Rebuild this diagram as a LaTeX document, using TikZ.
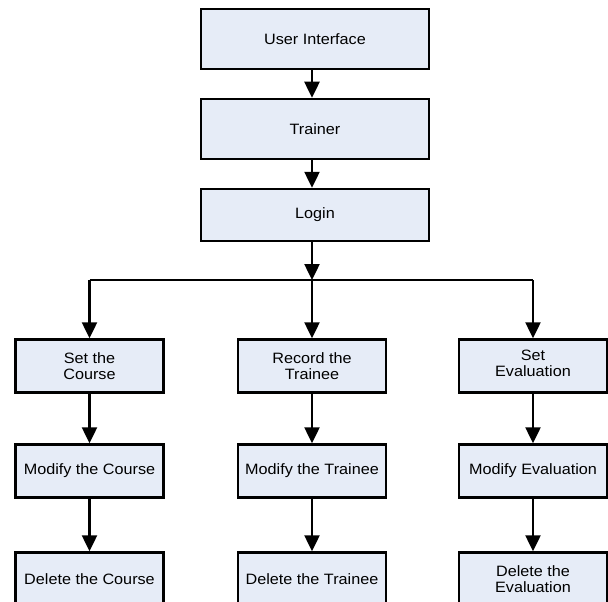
\documentclass[tikz,border=0pt]{standalone}
\usepackage{fontspec}
\setmainfont{Liberation Sans}[FakeStretch=1.08]
\usetikzlibrary{arrows.meta}
\definecolor{boxfill}{HTML}{E6ECF7}
\tikzset{
  box/.style={draw=black, line width=2.5pt, fill=boxfill, rectangle, align=center,
    font=\fontsize{15}{16}\selectfont, inner sep=0pt},
  topbox/.style={box, minimum width=228pt},
  colbox/.style={box, minimum width=148pt, minimum height=53pt},
  arr/.style={line width=2.5pt, -{Triangle[length=16pt,width=15pt]}},
  ln/.style={line width=2.5pt}
}
\begin{document}
\begin{tikzpicture}[x=1pt,y=-1pt]
\useasboundingbox (0,0) rectangle (608,602);
\clip (0,0) rectangle (608,602);
\coordinate (spine) at (312,0);
\node[topbox, minimum height=60pt] (ui) at (315,39) {User Interface};
\node[topbox, minimum height=60pt] (tr) at (315,129) {Trainer};
\node[topbox, minimum height=52pt] (lg) at (315,215) {Login};

\node[colbox] (c1) at (89.5,366) {Set the\\Course};
\node[colbox] (c2) at (89.5,471) {Modify the Course};
\node[colbox] (c3) at (89.5,579) {Delete the Course};

\node[colbox] (m1) at (312,366) {Record the\\Trainee};
\node[colbox] (m2) at (312,471) {Modify the Trainee};
\node[colbox] (m3) at (312,579) {Delete the Trainee};

\node[colbox] (r1) at (533,366) {Set\\Evaluation\rule[-5pt]{0pt}{0pt}};
\node[colbox] (r2) at (533,471) {Modify Evaluation};
\node[colbox] (r3) at (533,579) {Delete the\\Evaluation};

\draw[arr] (ui.south -| spine) -- (tr.north -| spine);
\draw[arr] (tr.south -| spine) -- (lg.north -| spine);
\coordinate (j) at (312,280);
\draw[arr] (lg.south -| spine) -- (j);
\draw[ln] (c1.north |- j) -- (r1.north |- j);
\draw[arr] (j) -- (m1.north);
\draw[arr] (c1.north |- j) -- (c1.north);
\draw[arr] (r1.north |- j) -- (r1.north);

\draw[arr] (c1.south) -- (c2.north);
\draw[arr] (c2.south) -- (c3.north);
\draw[arr] (m1.south) -- (m2.north);
\draw[arr] (m2.south) -- (m3.north);
\draw[arr] (r1.south) -- (r2.north);
\draw[arr] (r2.south) -- (r3.north);
\end{tikzpicture}
\end{document}
